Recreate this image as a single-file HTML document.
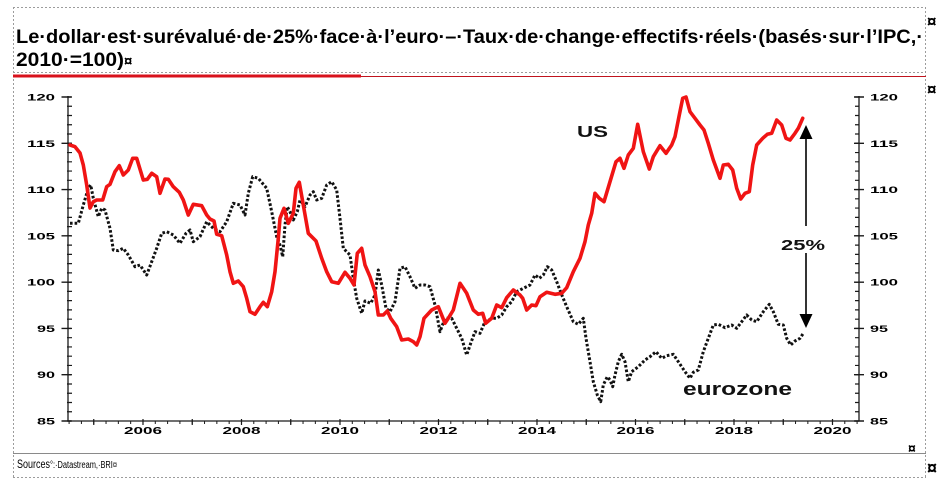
<!DOCTYPE html>
<html><head><meta charset="utf-8"><style>
html,body{margin:0;padding:0;background:#fff;}
svg{display:block;}
text{font-family:"Liberation Sans",Arial,sans-serif;}
</style></head><body>
<svg width="947" height="484" viewBox="0 0 947 484" xmlns="http://www.w3.org/2000/svg">
<rect width="947" height="484" fill="#fff"/>
<!-- frame (Word cell borders) -->
<g stroke="#9c9c9c" stroke-width="1" stroke-dasharray="2 2" fill="none">
<line x1="13" y1="7.5" x2="926" y2="7.5"/>
<line x1="13.5" y1="7" x2="13.5" y2="478"/>
<line x1="925.5" y1="7" x2="925.5" y2="478"/>
<line x1="13" y1="477.5" x2="926" y2="477.5"/>
<line x1="13" y1="72.5" x2="926" y2="72.5"/>
</g>
<line x1="13" y1="453.5" x2="926" y2="453.5" stroke="#8a8a8a" stroke-width="1"/>
<line x1="13" y1="76" x2="361" y2="76" stroke="#d8121c" stroke-width="3"/>
<line x1="361" y1="76.5" x2="926" y2="76.5" stroke="#c0141e" stroke-width="1"/>

<!-- title -->
<text x="16" y="43" font-size="19.5" font-weight="bold" fill="#000" textLength="907" lengthAdjust="spacingAndGlyphs">Le·dollar·est·surévalué·de·25%·face·à·l’euro·–·Taux·de·change·effectifs·réels·(basés·sur·l’IPC,·</text>
<text x="16" y="66" font-size="19.5" font-weight="bold" fill="#000" textLength="108" lengthAdjust="spacingAndGlyphs">2010·=100)</text>
<text x="124" y="66" font-size="15" font-weight="bold" fill="#000">¤</text>

<!-- side paragraph marks -->
<text x="927" y="27" font-size="17" font-weight="bold" fill="#000">¤</text>
<text x="927" y="95" font-size="17" font-weight="bold" fill="#000">¤</text>
<text x="908" y="453" font-size="14" font-weight="bold" fill="#000">¤</text>
<text x="927" y="474" font-size="18" font-weight="bold" fill="#000">¤</text>

<!-- axes -->
<g stroke="#1a1a1a" fill="none">
<line x1="68" y1="96" x2="68" y2="421.5" stroke-width="1.3"/>
<line x1="859" y1="96" x2="859" y2="421.5" stroke-width="1.3"/>
<line x1="67.5" y1="421" x2="859.5" y2="421" stroke-width="1.3"/>
<line x1="69.5" y1="96.4" x2="69.5" y2="421.6" stroke-width="5" stroke-dasharray="1.2 8.057"/>
<line x1="66.5" y1="96.3" x2="66.5" y2="421.7" stroke-width="10" stroke-dasharray="1.4 44.885"/>
<line x1="857" y1="96.4" x2="857" y2="421.6" stroke-width="4" stroke-dasharray="1.2 8.057"/>
<line x1="859" y1="96.3" x2="859" y2="421.7" stroke-width="10" stroke-dasharray="1.4 44.885"/>
<line x1="68.6" y1="422.5" x2="859" y2="422.5" stroke-width="3" stroke-dasharray="1 11.3125"/>
<line x1="93.15" y1="422" x2="859" y2="422" stroke-width="6" stroke-dasharray="1.2 48.05"/>
</g>

<!-- y labels -->
<g font-size="9.5" font-weight="bold" fill="#000">
<text x="27" y="100.5" textLength="28" lengthAdjust="spacingAndGlyphs">120</text>
<text x="27" y="146.8" textLength="28" lengthAdjust="spacingAndGlyphs">115</text>
<text x="27" y="193.1" textLength="28" lengthAdjust="spacingAndGlyphs">110</text>
<text x="27" y="239.3" textLength="28" lengthAdjust="spacingAndGlyphs">105</text>
<text x="27" y="285.6" textLength="28" lengthAdjust="spacingAndGlyphs">100</text>
<text x="37" y="331.9" textLength="18" lengthAdjust="spacingAndGlyphs">95</text>
<text x="37" y="378.2" textLength="18" lengthAdjust="spacingAndGlyphs">90</text>
<text x="37" y="424.5" textLength="18" lengthAdjust="spacingAndGlyphs">85</text>
<text x="870" y="100.5" textLength="28" lengthAdjust="spacingAndGlyphs">120</text>
<text x="870" y="146.8" textLength="28" lengthAdjust="spacingAndGlyphs">115</text>
<text x="870" y="193.1" textLength="28" lengthAdjust="spacingAndGlyphs">110</text>
<text x="870" y="239.3" textLength="28" lengthAdjust="spacingAndGlyphs">105</text>
<text x="870" y="285.6" textLength="28" lengthAdjust="spacingAndGlyphs">100</text>
<text x="870" y="331.9" textLength="18" lengthAdjust="spacingAndGlyphs">95</text>
<text x="870" y="378.2" textLength="18" lengthAdjust="spacingAndGlyphs">90</text>
<text x="870" y="424.5" textLength="18" lengthAdjust="spacingAndGlyphs">85</text>
</g>

<!-- x labels -->
<g font-size="10" font-weight="bold" fill="#000">
<text x="124" y="434" textLength="38" lengthAdjust="spacingAndGlyphs">2006</text>
<text x="222.5" y="434" textLength="38" lengthAdjust="spacingAndGlyphs">2008</text>
<text x="321" y="434" textLength="38" lengthAdjust="spacingAndGlyphs">2010</text>
<text x="419.5" y="434" textLength="38" lengthAdjust="spacingAndGlyphs">2012</text>
<text x="518" y="434" textLength="38" lengthAdjust="spacingAndGlyphs">2014</text>
<text x="616.5" y="434" textLength="38" lengthAdjust="spacingAndGlyphs">2016</text>
<text x="715" y="434" textLength="38" lengthAdjust="spacingAndGlyphs">2018</text>
<text x="813.5" y="434" textLength="38" lengthAdjust="spacingAndGlyphs">2020</text>
</g>

<!-- eurozone (dotted) -->
<polyline fill="none" stroke="#111" stroke-width="3" stroke-dasharray="2.6 2" stroke-linejoin="round" points="70,223.3 78.3,223.3 83.3,205 88.3,188.3 90.7,185 93.3,198.3 98.3,216.7 101.7,208.3 105,210 110,228.3 113.3,250 118.3,250.7 123.3,248.3 128.3,255 135,266.7 140,265 146.7,275 151.7,261.7 156.7,248.3 161.7,233.3 166.7,231.7 173.3,235 180,243.3 186,233.3 190,230 193.3,241.7 200,236.7 206.7,221.7 213.3,228.3 220,231.7 226.7,221.7 233.3,203.3 240,205 245,215 248.3,193.3 252.7,176.7 258.3,178.3 266.7,188.3 271.7,211.7 276.7,236.7 280,245 282.7,256.7 285,225 287.3,206.7 290,211.7 293.3,220 297.3,211.7 300,200 305,206.7 310,195 313.3,191.7 316.7,200 321.7,198.3 326.7,185 331.7,181.7 336.7,190 340,218.3 343.3,248.3 350,255 353.3,278.3 356.7,298.3 361.7,313.3 365,301 370.7,303.3 375,295 378.3,270 381.7,285 386,308.3 390,311.7 395,301.7 400,268.3 405,266.7 410,276.7 415,288.3 420,285 425,285 430,286.7 435,305 440,331.7 445,318.3 451.7,318.3 456.7,328.3 461.7,338.3 466.7,355 470.7,343.3 475,331.7 480,333.3 485,321.7 491.7,318.3 496.7,318.3 501.7,315 506.7,306.7 511.7,301.7 516.7,291.7 523.3,288.3 530,285 535,275 539.3,278.3 543.3,275 547.3,266.7 551.7,270 556.7,281.7 561,293 566.7,306.7 573.3,321.7 578.3,324.3 583.3,318.3 586,338.3 590,361.7 593.3,381.7 597.3,395 600.7,401.7 603.3,385 607.3,376.7 610,380 612.7,386.7 615,375 618.3,361.7 621.7,354.3 625,361.7 628.3,381.7 631.7,371.7 638.3,366.7 645,360 650,356.7 656,351.7 661.7,358.3 666.7,355.7 673.3,354.3 678.3,361.7 685,371.7 690,378.3 693.3,372.3 698.3,370 703.3,351.7 708.3,338.3 713.3,325 718.3,324.3 725,327.7 731.7,325 736.7,328.3 741.7,321.7 746.7,315 751.7,320 756.7,321.7 763.3,311.7 769.3,304.3 773.3,311.7 778.3,324.3 783.3,325 786.7,338.3 790.7,345 795,341 800,338.3 803.3,333.3"/>

<!-- US (red) -->
<polyline fill="none" stroke="#f01414" stroke-width="3.6" stroke-linejoin="round" stroke-linecap="round" points="70,145 75,146.7 80,153 83.3,165 86.7,185 90,208 93.3,201.7 96.7,200 102.7,200 106.7,186.7 110,184.3 115,171.7 119.3,165.7 123.3,175 128.3,170 132.7,158.3 136.7,158.3 143.3,180 147.3,179.3 151.7,173.3 156.7,176.7 160,193.3 165,179 168.3,179.3 173.3,186.7 179.3,192.3 183.3,200 188.3,215 193.3,204.3 201.7,205.7 206.7,215 210,219 214,221 216.7,234.3 221.7,235.7 226.7,255 230,271.7 233.3,283.3 238.3,281 243.3,286.7 246.7,298.3 250,311.7 255,314.3 260,306.7 263.3,302.3 267.3,306.7 271.7,291.7 275,271.7 278.3,238.3 280,218.3 284,208.3 288.3,223.3 293.3,213.3 296,188.3 299.3,182.3 303.3,205 308.3,233.3 316,241 321.7,258.3 326.7,271.7 331.7,281.7 338.3,283.3 345,272.3 350,278.3 354,285 357.3,253.3 361.7,248.3 365,265 370,276.7 375,291.7 378.3,315 383.3,315 387.3,311 390.7,318.3 396.7,326.7 401.7,340 408.3,339 413.3,341.7 416.7,345 420,336.7 424,318.3 431.7,310 438.3,306.7 445,323.3 448.3,318.3 453.3,310 460,283.3 466.7,293.3 473.3,310 478.3,314.3 482.7,313.3 485.7,323.3 491.7,318.3 496.7,305 501.7,307.7 506.7,297.7 513.3,290 520,295 522.7,298.3 526.7,310 531.7,305 536,305.7 540,296.7 546.7,292.3 555,294.3 561.7,293.3 566.7,287.7 573.3,271.7 580,258.3 585,241.7 588.3,225 591.7,213.3 595,193.3 599.3,198.3 604,201.7 610,181.7 616,161.7 620,158.3 624,168.3 628.3,155 633.3,148.3 637.7,124.3 643.3,151.7 649.3,169 653.3,156.7 660,145.7 666,153.3 671.7,145 675,136.7 679.3,115 682.7,98.3 686,97 690,111.7 695,118.3 700,125 704,130 708.3,143.3 713.3,160 720,178.3 723.3,165 728.3,164.3 732.7,170 736.7,188.3 740.7,199 745,193.3 749.3,191.7 752.7,165 756.7,145 762.7,138.3 767.3,134.3 771.7,133.3 776.7,120 781.7,125 786,138.3 790,140 795,133.3 798.3,128.3 802.7,118.3"/>

<!-- arrow -->
<line x1="806" y1="137" x2="806" y2="226" stroke="#000" stroke-width="1.6"/>
<line x1="806" y1="253" x2="806" y2="316" stroke="#000" stroke-width="1.6"/>
<polygon points="806,125 799.5,139 812.5,139" fill="#000"/>
<polygon points="806,328 799.5,314 812.5,314" fill="#000"/>

<!-- annotations -->
<text x="577" y="137" font-size="16" font-weight="bold" fill="#111" textLength="31" lengthAdjust="spacingAndGlyphs">US</text>
<text x="781" y="250" font-size="15" font-weight="bold" fill="#111" textLength="44" lengthAdjust="spacingAndGlyphs">25%</text>
<text x="683" y="395" font-size="18" font-weight="bold" fill="#111" textLength="109" lengthAdjust="spacingAndGlyphs">eurozone</text>

<!-- sources -->
<text x="17" y="468" font-size="11.5" fill="#000" textLength="33" lengthAdjust="spacingAndGlyphs">Sources</text>
<text x="50" y="468" font-size="10" fill="#000" textLength="67" lengthAdjust="spacingAndGlyphs">°:·Datastream,·BRI¤</text>
</svg>
</body></html>
